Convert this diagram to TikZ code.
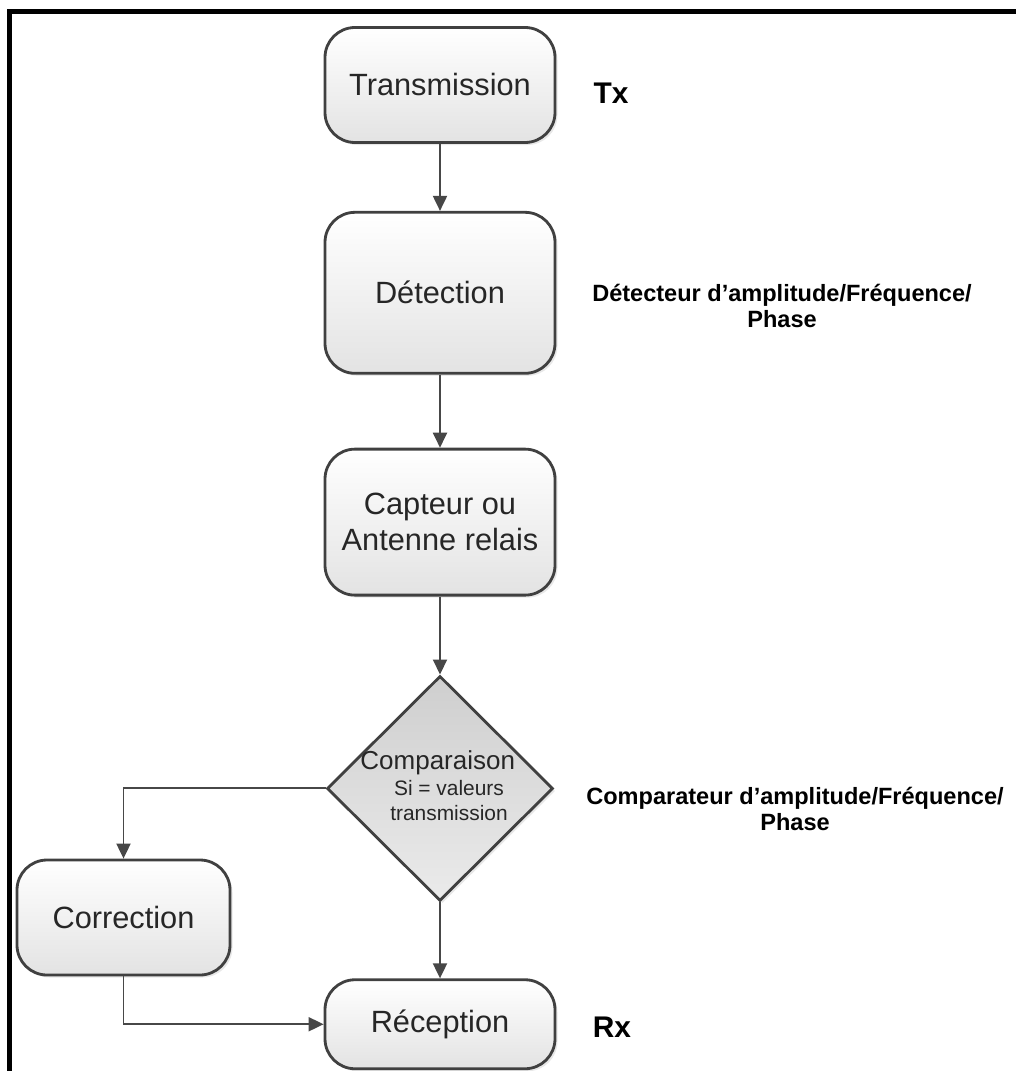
\documentclass[tikz,border=0pt]{standalone}
\usepackage{fontspec}
\setsansfont{Liberation Sans}
\usetikzlibrary{arrows.meta, shapes.geometric, shadows,
positioning }
\tikzset{%
>={Triangle[width=2.8mm,length=3mm]},
  % Specifications for style of nodes:
            base/.style = {rectangle, rounded corners=0.6cm, draw=black!75,
                            line width=1.6pt, top color=white, bottom color=black!11,
                            minimum width=4.6cm, minimum height=2.3cm,
                            font=\sffamily\fontsize{17.5}{20.5}\selectfont,
                            text=black!85, align=center,
                            drop shadow={opacity=0.18, shadow xshift=0.05cm, shadow yshift=-0.05cm}},
            decision/.style = {diamond, draw=black!75, line width=1.6pt,
                            top color=black!19, bottom color=black!8,
                            minimum width=4.52cm, minimum height=4.5cm, inner sep=0pt,
                            drop shadow={opacity=0.18, shadow xshift=0.05cm, shadow yshift=-0.05cm}},
            side/.style = {font=\sffamily\bfseries\fontsize{13.4}{15.3}\selectfont,
                            align=center, text=black},
            arr/.style = {->, draw=black!72, line width=1.1pt}
}
\begin{document}
\begin{tikzpicture}[align=center]
                \useasboundingbox (0,0) rectangle (20.32,-21.42);
                \draw[line width=0.1cm] (0.19,-21.42) |- (20.32,-0.24);

                % main column
                \node[base] (tx1) at (8.8,-1.7) {Transmission};
                \node[base, below=1.34cm of tx1, minimum height=3.22cm] (det1) {D\'etection};
                \node[base, below=1.46cm of det1, minimum height=2.92cm] (cap1) {Capteur ou\\Antenne relais};
                \node[decision, below=1.56cm of cap1] (comp1) {};
                \node[text=black!85, font=\sffamily\fontsize{11.9}{14.2}\selectfont] (comptxt) at ([xshift=0.18cm, yshift=0.06cm]comp1.center)
                    {\fontsize{14.8}{17}\selectfont\hspace*{-0.45cm}Comparaison\\[0.5pt]
                     Si = valeurs\\transmission};
                \node[base, below=1.52cm of comp1, minimum height=1.78cm] (rec1) {R\'eception};
                \node[base, minimum width=4.26cm] (corr1) at (2.47,-18.35) {Correction};

                \draw[arr] (tx1) -- (det1);
                \draw[arr] (det1) -- (cap1);
                \draw[arr] (cap1) -- (comp1);
                \draw[arr] (comp1) -- (rec1);
                \draw[arr] (comp1.west) -| (corr1.north);
                \draw[arr] (corr1.south) |- (rec1.west);

                % side labels
                \node[side, font=\sffamily\bfseries\fontsize{17}{20}\selectfont] (txl) at (12.22,-1.86) {Tx};
                \node[side] (detl) at (15.64,-6.12) {D\'etecteur d’amplitude/Fr\'equence/\\Phase};
                \node[side] (compl) at (15.9,-16.18) {Comparateur d’amplitude/Fr\'equence/\\Phase};
                \node[side, font=\sffamily\bfseries\fontsize{17}{20}\selectfont] (rxl) at (12.24,-20.54) {Rx};

            \end{tikzpicture}
\end{document}
